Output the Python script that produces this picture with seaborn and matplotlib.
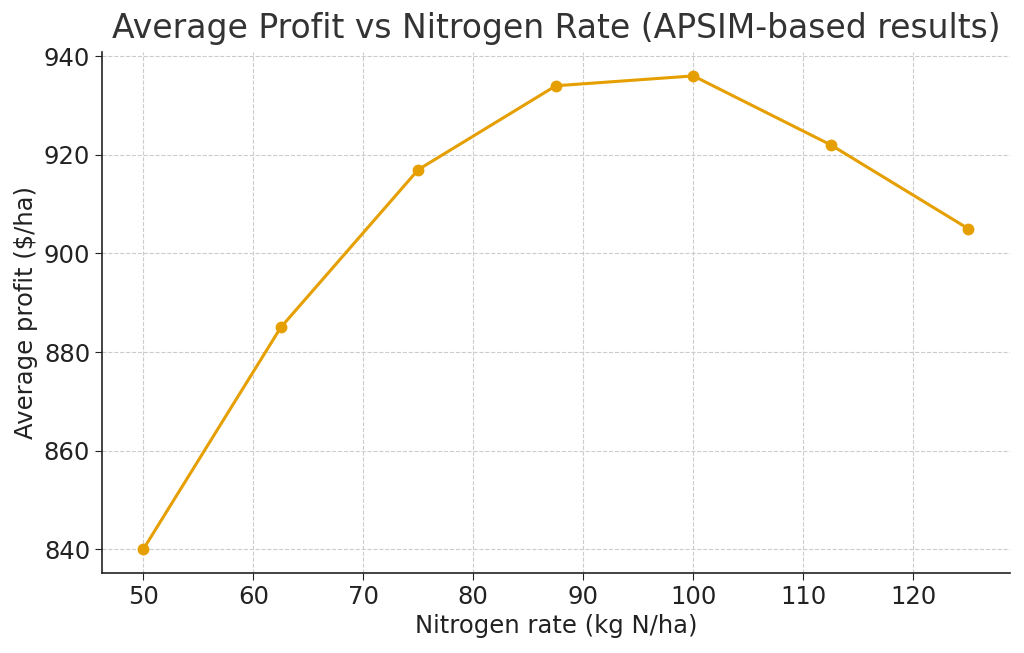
import matplotlib
matplotlib.use("Agg")
import pandas as pd
import seaborn as sns
import matplotlib.pyplot as plt

# tasas de nitrógeno y beneficio promedio
nitrogen_rate = [50, 62.5, 75, 87.5, 100, 112.5, 125]
avg_profit = [840, 885, 917, 934, 936, 922, 905]

df = pd.DataFrame({"Nitrogen": nitrogen_rate, "Profit": avg_profit})

sns.set_style("ticks")
plt.rcParams["font.family"] = ["DejaVu Sans"]

fig, ax = plt.subplots(figsize=(10.24, 6.53), dpi=100)
fig.subplots_adjust(left=0.0996, right=0.986, top=0.920, bottom=0.1225)

sns.lineplot(data=df, x="Nitrogen", y="Profit", color="#E69F00", linewidth=2.2,
             marker="o", markersize=8.5, markeredgewidth=0, ax=ax)

ax.grid(True, linestyle="--", color="#cccccc", linewidth=0.8)
ax.set_axisbelow(True)
sns.despine(ax=ax)
for s in ["left", "bottom"]:
    ax.spines[s].set_color("#222222")
    ax.spines[s].set_linewidth(1.2)
ax.set_yticks([840, 860, 880, 900, 920, 940])
ax.tick_params(labelsize=17.5, colors="#222222", length=5)
ax.set_title("Average Profit vs Nitrogen Rate (APSIM-based results)", fontsize=23.8,
             color="#333333", pad=10)
ax.set_xlabel("Nitrogen rate (kg N/ha)", fontsize=17.5, color="#222222")
ax.set_ylabel("Average profit ($/ha)", fontsize=17.5, color="#222222")

plt.savefig("out.png", dpi=100)
